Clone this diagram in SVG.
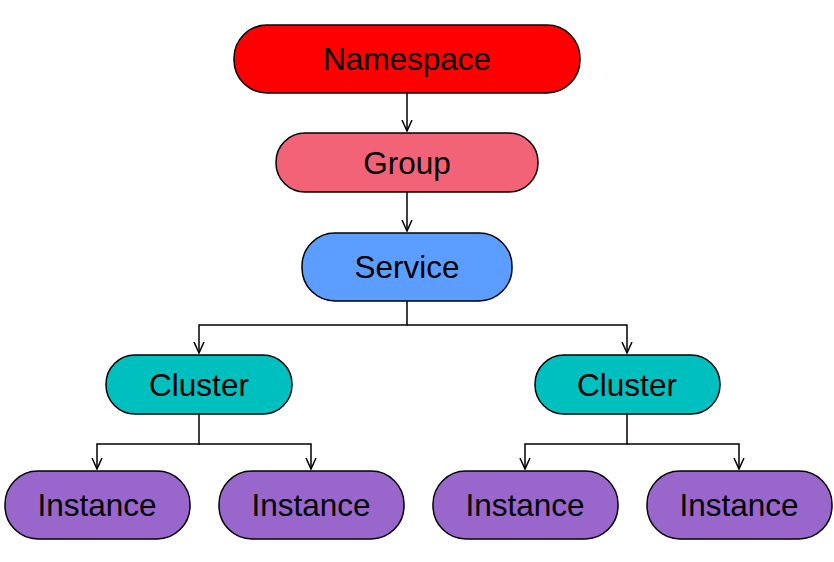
<svg xmlns="http://www.w3.org/2000/svg" width="834" height="562" viewBox="0 0 834 562">
<defs>
<style>
.box{stroke:#000;stroke-width:1.5}
.lbl{font-family:"Liberation Sans",Arial,sans-serif;font-size:31.5px;fill:#000;text-anchor:middle}
.edge{fill:none;stroke:#000;stroke-width:1.5}
</style>
<marker id="arr" viewBox="0 0 12 12" refX="11" refY="6" markerWidth="12" markerHeight="12" markerUnits="userSpaceOnUse" orient="auto">
<path d="M0,1 L11,6 L0,11" fill="none" stroke="#000" stroke-width="1.5"/>
</marker>
</defs>
<rect width="834" height="562" fill="#fff"/>
<g id="connectors">
<path class="edge" d="M407,93 V131" marker-end="url(#arr)"/>
<path class="edge" d="M407,192 V231" marker-end="url(#arr)"/>
<path class="edge" d="M407,301 V325 H199 V353" marker-end="url(#arr)"/>
<path class="edge" d="M407,325 H627 V353" marker-end="url(#arr)"/>
<path class="edge" d="M199,414 V444 H97 V469" marker-end="url(#arr)"/>
<path class="edge" d="M199,444 H311 V469" marker-end="url(#arr)"/>
<path class="edge" d="M627,414 V444 H525 V469" marker-end="url(#arr)"/>
<path class="edge" d="M627,444 H739 V469" marker-end="url(#arr)"/>
</g>
<g id="namespace">
<rect class="box" x="234" y="25" width="346" height="68" rx="33" fill="#FF0000"/>
<text class="lbl" x="407" y="70">Namespace</text>
</g>
<g id="group">
<rect class="box" x="276" y="133" width="262" height="59" rx="29" fill="#F26378"/>
<text class="lbl" x="407" y="174">Group</text>
</g>
<g id="service">
<rect class="box" x="302" y="233" width="210" height="68" rx="33" fill="#5C9EFF"/>
<text class="lbl" x="407" y="278">Service</text>
</g>
<g id="cluster1">
<rect class="box" x="106" y="355" width="186" height="59" rx="29" fill="#00BFBF"/>
<text class="lbl" x="199" y="396">Cluster</text>
</g>
<g id="cluster2">
<rect class="box" x="535" y="355" width="185" height="59" rx="29" fill="#00BFBF"/>
<text class="lbl" x="627" y="396">Cluster</text>
</g>
<g id="instance1">
<rect class="box" x="5" y="471" width="185" height="68" rx="33" fill="#9966CC"/>
<text class="lbl" x="97" y="516">Instance</text>
</g>
<g id="instance2">
<rect class="box" x="219" y="471" width="185" height="68" rx="33" fill="#9966CC"/>
<text class="lbl" x="311" y="516">Instance</text>
</g>
<g id="instance3">
<rect class="box" x="433" y="471" width="185" height="68" rx="33" fill="#9966CC"/>
<text class="lbl" x="525" y="516">Instance</text>
</g>
<g id="instance4">
<rect class="box" x="647" y="471" width="185" height="68" rx="33" fill="#9966CC"/>
<text class="lbl" x="739" y="516">Instance</text>
</g>
</svg>
